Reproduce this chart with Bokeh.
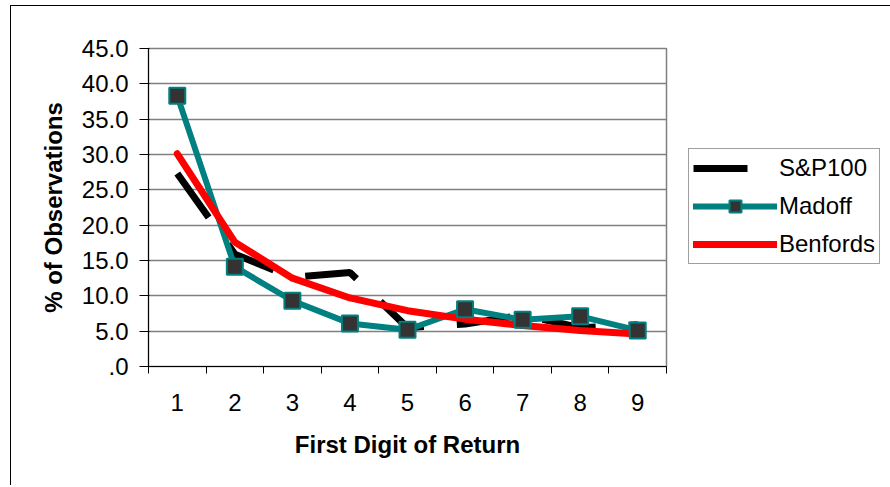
from bokeh.plotting import figure
from bokeh.models import (Range1d, FixedTicker, Legend, LegendItem, InlineStyleSheet)
from bokeh.embed import file_html
from bokeh.resources import INLINE

# ---- data ----
digits = ["1", "2", "3", "4", "5", "6", "7", "8", "9"]
sp100 = [27.3, 15.9, 12.6, 13.3, 5.5, 6.0, 7.3, 5.5, 5.9]
madoff = [38.3, 14.1, 9.3, 6.1, 5.2, 8.1, 6.6, 7.1, 5.1]
benfords = [30.1, 17.6, 12.5, 9.7, 7.9, 6.7, 5.8, 5.1, 4.6]
y_ticks = [0, 5, 10, 15, 20, 25, 30, 35, 40, 45]
y_tick_labels = [".0", "5.0", "10.0", "15.0", "20.0", "25.0", "30.0", "35.0", "40.0", "45.0"]
series_names = ["S&P100", "Madoff", "Benfords"]
x_title = "First Digit of Return"
y_title = "% of Observations"

xs = list(range(1, len(digits) + 1))
FONT = "Liberation Sans"

p = figure(frame_width=518, frame_height=318, output_backend="svg", toolbar_location=None,
           x_range=Range1d(0.5, len(digits) + 0.5), y_range=Range1d(0, 45),
           min_border_left=137, min_border_right=0, min_border_top=42, min_border_bottom=119)
p.stylesheets = [InlineStyleSheet(css=":host { margin-left: 10px; margin-top: 5px; "
                                      "border-left: 1px solid black; border-top: 1px solid black; }")]

p.background_fill_color = "white"
p.border_fill_color = "white"
p.outline_line_color = "#808080"
p.outline_line_width = 1.5

# grid
p.xgrid.grid_line_color = None
p.ygrid.grid_line_color = "#808080"
p.ygrid.grid_line_width = 1.5

# y axis
p.yaxis.ticker = FixedTicker(ticks=y_ticks)
p.yaxis.major_label_overrides = {t: l for t, l in zip(y_ticks, y_tick_labels)}
p.yaxis.axis_line_color = "black"
p.yaxis.major_tick_line_color = "black"
p.yaxis.major_tick_out = 9
p.yaxis.major_tick_in = 1
p.yaxis.minor_tick_line_color = None
p.yaxis.major_label_standoff = 11
p.yaxis.major_label_text_font = FONT
p.yaxis.major_label_text_font_size = "24px"
p.yaxis.major_label_text_color = "black"
p.yaxis.axis_label = y_title
p.yaxis.axis_label_text_font = FONT
p.yaxis.axis_label_text_font_size = "24px"
p.yaxis.axis_label_text_font_style = "bold"
p.yaxis.axis_label_text_color = "black"
p.yaxis.axis_label_standoff = 12

# x axis: labels at categories, tick marks between categories
p.xaxis.ticker = FixedTicker(ticks=xs, minor_ticks=[x - 0.5 for x in xs] + [xs[-1] + 0.5])
p.xaxis.major_label_overrides = {x: d for x, d in zip(xs, digits)}
p.xaxis.axis_line_color = "black"
p.xaxis.major_tick_line_color = None
p.xaxis.major_tick_out = 0
p.xaxis.major_tick_in = 0
p.xaxis.minor_tick_line_color = "black"
p.xaxis.minor_tick_out = 7
p.xaxis.minor_tick_in = 0
p.xaxis.major_label_standoff = 20
p.xaxis.major_label_text_font = FONT
p.xaxis.major_label_text_font_size = "24px"
p.xaxis.major_label_text_color = "black"
p.xaxis.axis_label = x_title
p.xaxis.axis_label_text_font = FONT
p.xaxis.axis_label_text_font_size = "24px"
p.xaxis.axis_label_text_font_style = "bold"
p.xaxis.axis_label_text_color = "black"
p.xaxis.axis_label_standoff = 17

# series
r_sp = p.line(xs, sp100, line_color="black", line_width=7, line_dash="54 33")
r_md = p.line(xs, madoff, line_color="#008080", line_width=6, line_cap="round", line_join="round")
r_bf = p.line(xs, benfords, line_color="#FF0000", line_width=7, line_cap="round", line_join="round")
r_mk = p.scatter(xs, madoff, marker="square", size=16, fill_color="#333333",
                 line_color="#008080", line_width=2)

legend = Legend(items=[
    LegendItem(label=series_names[0], renderers=[r_sp]),
    LegendItem(label=series_names[1], renderers=[r_md, r_mk]),
    LegendItem(label=series_names[2], renderers=[r_bf]),
], location=(22, 102))
legend.label_text_font = FONT
legend.label_text_font_size = "24px"
legend.label_text_color = "black"
legend.glyph_width = 84
legend.glyph_height = 30
legend.label_height = 30
legend.label_standoff = 2
legend.spacing = 8
legend.padding = 4
legend.margin = 0
legend.border_line_color = "#404040"
legend.border_line_width = 1
legend.background_fill_color = "white"
p.add_layout(legend, "right")

open("out.html", "w").write(file_html(p, INLINE))
